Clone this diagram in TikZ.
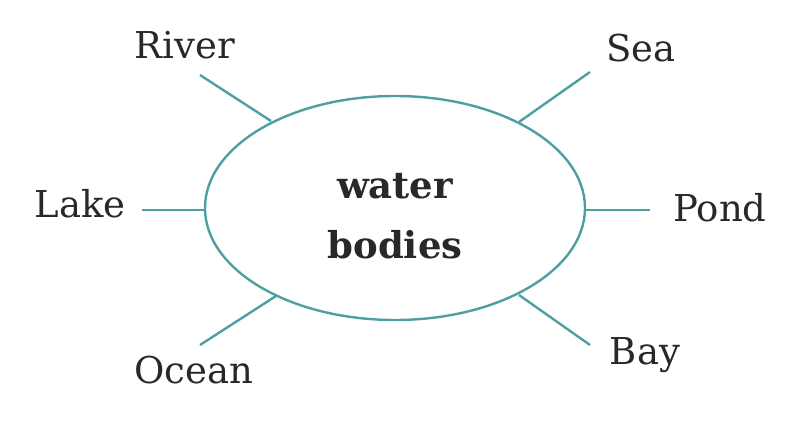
\documentclass[tikz,border=0pt]{standalone}
\usepackage{fontspec}
\usetikzlibrary{shapes.geometric}
\setmainfont{DejaVu Serif}
\definecolor{teal1}{RGB}{78,160,160}
\definecolor{txt}{RGB}{40,40,40}
\begin{document}
\begin{tikzpicture}[x=1pt,y=-1pt,
  lab/.style={font=\fontsize{37}{42}\selectfont,text=txt,inner sep=0pt},
  conn/.style={draw=teal1,line width=2.4pt}]
\useasboundingbox (0,0) rectangle (811,423);
\node[draw=teal1,line width=2.4pt,ellipse,minimum width=380pt,minimum height=224pt,inner sep=0pt] (c) at (395,208) {};
\node[font=\fontsize{37}{60}\selectfont\bfseries,text=txt,align=center] (t) at (395,216) {water\\bodies};
\node[lab] (river) at (185,45) {River};
\node[lab] (sea) at (641,48) {Sea};
\node[lab] (lake) at (80,204) {Lake};
\node[lab] (pond) at (720,208) {Pond};
\node[lab] (ocean) at (194,370) {Ocean};
\node[lab] (bay) at (645,355) {Bay};
\coordinate (r1) at (200,75); \coordinate (r2) at (271,121);
\coordinate (s1) at (590,72); \coordinate (s2) at (519,122);
\coordinate (l1) at (142,210); \coordinate (l2) at (205,210);
\coordinate (p1) at (650,210); \coordinate (p2) at (585,210);
\coordinate (o1) at (200,345); \coordinate (o2) at (276,296);
\coordinate (b1) at (590,345); \coordinate (b2) at (519,295);
\draw[conn] (r1) -- (r2);
\draw[conn] (s1) -- (s2);
\draw[conn] (l1) -- (l2);
\draw[conn] (p1) -- (p2);
\draw[conn] (o1) -- (o2);
\draw[conn] (b1) -- (b2);
\end{tikzpicture}
\end{document}
